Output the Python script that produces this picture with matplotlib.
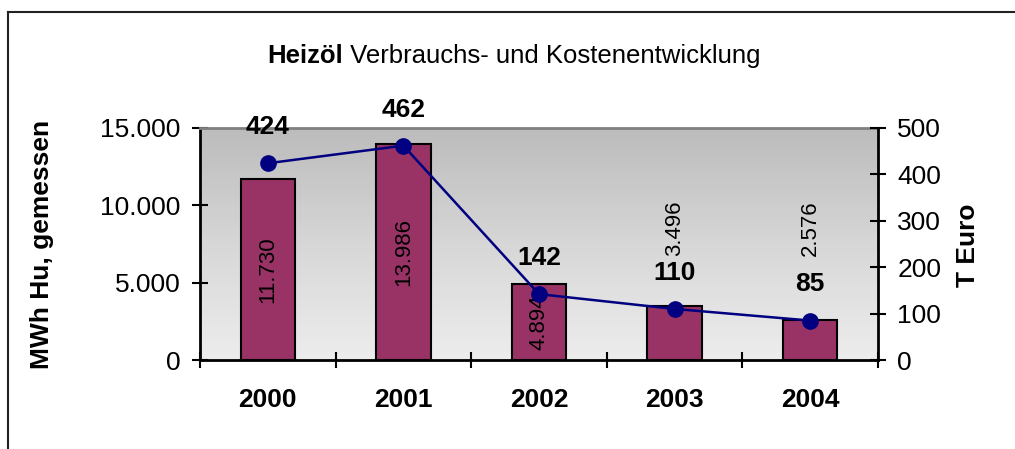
import matplotlib.pyplot as plt
import numpy as np
from matplotlib.lines import Line2D

plt.rcParams['font.family'] = ['Liberation Sans', 'DejaVu Sans']

years = ['2000', '2001', '2002', '2003', '2004']
mwh = [11730, 13986, 4894, 3496, 2576]
teuro = [424, 462, 142, 110, 85]


def fmt_de(v):
    return '{:,}'.format(v).replace(',', '.')


fig = plt.figure(figsize=(10.15, 4.49), dpi=100)
ax = fig.add_axes([200/1015, 1-360/449, 678/1015, 232/449])
x = np.arange(len(years))

# grey gradient background of the plot area
grad = np.linspace(0, 1, 256).reshape(-1, 1)
ax.imshow(grad, cmap='Greys_r', vmin=-2.6, vmax=1.6, aspect='auto',
          extent=[0, 1, 0, 1], transform=ax.transAxes, zorder=0)

ax.bar(x, mwh, width=0.4, color='#993366', edgecolor='black', linewidth=1.5, zorder=2)
ax.set_xlim(-0.5, 4.5)
ax.set_ylim(0, 15000)
ax.set_yticks([0, 5000, 10000, 15000])
ax.set_yticklabels([fmt_de(v) for v in [0, 5000, 10000, 15000]], fontsize=19)
ax.set_xticks([-0.5, 0.5, 1.5, 2.5, 3.5, 4.5])
ax.set_xticklabels([])
ax.set_xticks(x, minor=True)
ax.set_xticklabels(years, minor=True, fontsize=19, fontweight='bold')
ax.tick_params(axis='x', which='minor', length=0, pad=20)
ax.tick_params(axis='both', which='major', direction='inout', length=12, width=1.5)
ax.tick_params(axis='y', pad=8)
for s in ['left', 'bottom']:
    ax.spines[s].set_linewidth(2)
ax.spines['top'].set_color('#808080')
ax.spines['top'].set_linewidth(2)
ax.spines['right'].set_visible(False)

for i, v in enumerate(mwh):
    # short bars: label sits above the bar
    yy = v / 2 if v > 4000 else 8500
    ax.text(i, yy, fmt_de(v), rotation=90, ha='center', va='center', fontsize=16, zorder=3)

ax2 = ax.twinx()
ax2.plot(x, teuro, color='#000080', linewidth=1.8, marker='o', markersize=11, zorder=4)
ax2.set_ylim(0, 500)
ax2.set_yticks([0, 100, 200, 300, 400, 500])
ax2.set_yticklabels(['0', '100', '200', '300', '400', '500'], fontsize=19)
ax2.tick_params(axis='y', direction='inout', length=12, width=1.5, pad=8)
for s in ['top', 'left', 'bottom']:
    ax2.spines[s].set_visible(False)
ax2.spines['right'].set_linewidth(2)
for i, v in enumerate(teuro):
    ax2.annotate(str(v), (i, v), xytext=(0, 26), textcoords='offset points',
                 ha='center', va='center', fontsize=19, fontweight='bold')

fig.text(42/1015, 1-244/449, 'MWh Hu, gemessen', rotation=90, ha='center', va='center',
         fontsize=19, fontweight='bold')
fig.text(968/1015, 1-245/449, 'T Euro', rotation=90, ha='center', va='center',
         fontsize=19, fontweight='bold')

t1 = fig.text(0, 1-56/449, 'Heizöl', fontsize=18.5, fontweight='bold', va='center')
t2 = fig.text(0, 1-56/449, ' Verbrauchs- und Kostenentwicklung', fontsize=18.5, va='center')
fig.canvas.draw()
r = fig.canvas.get_renderer()
w1 = t1.get_window_extent(r).width
w2 = t2.get_window_extent(r).width
x0 = 514 - (w1 + w2) / 2
t1.set_x(x0 / 1015)
t2.set_x((x0 + w1) / 1015)

# outer frame (only top and left edges visible)
fig.add_artist(Line2D([8/1015, 1], [1-12/449, 1-12/449], color='#222222', linewidth=1.5))
fig.add_artist(Line2D([8/1015, 8/1015], [0, 1-12/449], color='#222222', linewidth=1.5))

fig.savefig('out.png', dpi=100)
